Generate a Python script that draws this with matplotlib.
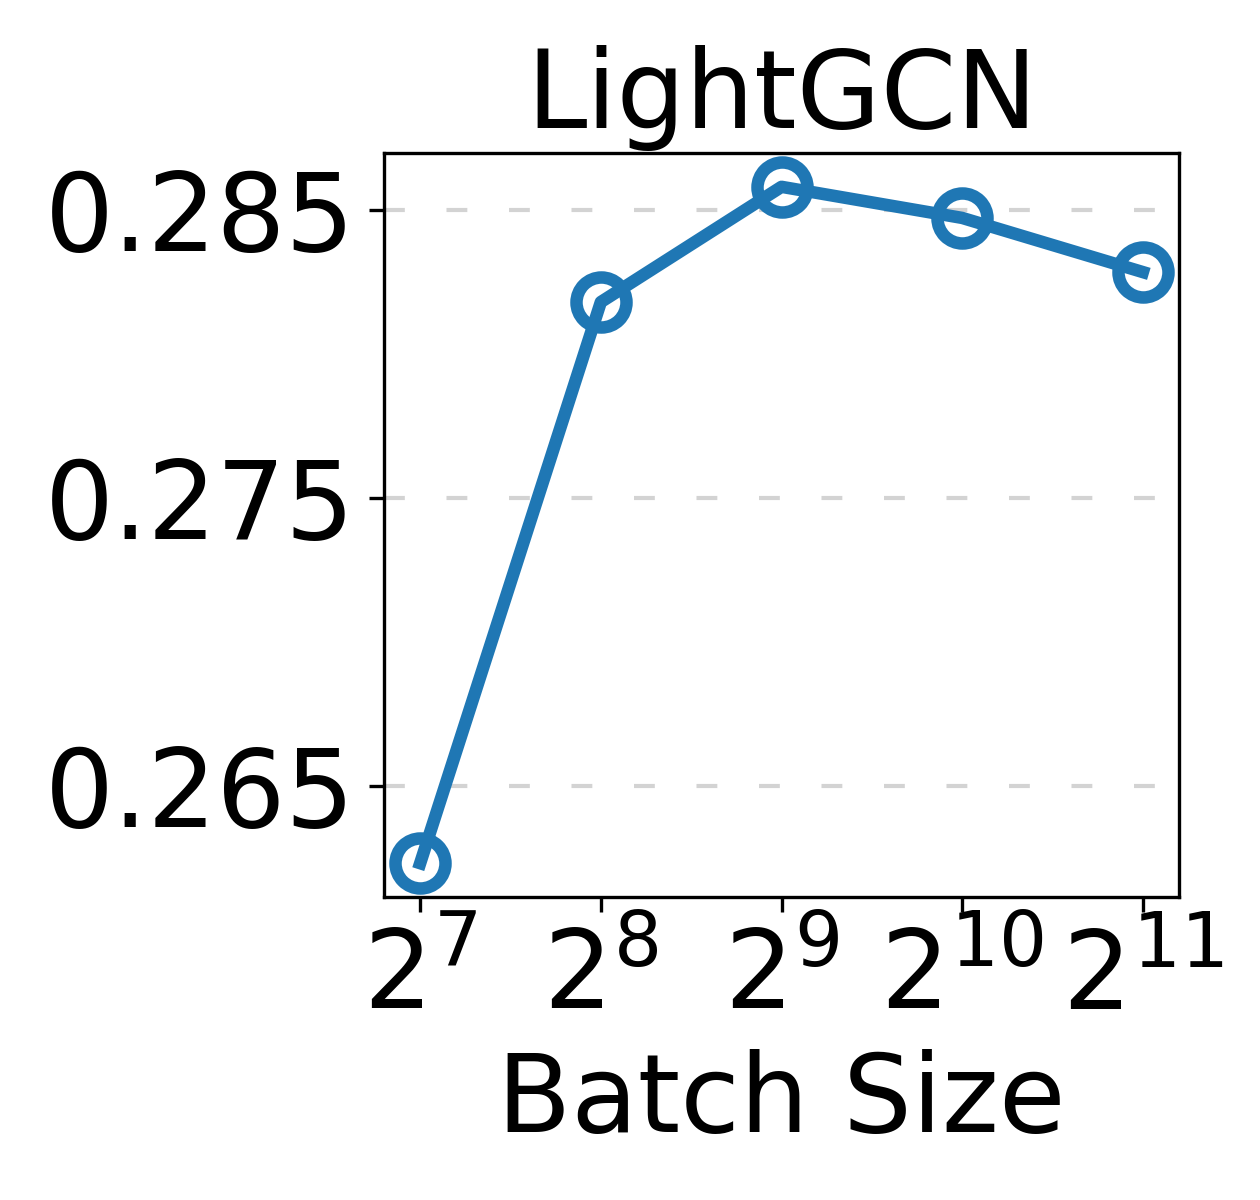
import matplotlib
matplotlib.use("Agg")
import matplotlib.pyplot as plt

# batch size exponents (2^k) and the metric
exponents = [7, 8, 9, 10, 11]
tick_labels = [r"$2^{7}$", r"$2^{8}$", r"$2^{9}$", r"$2^{10}$", r"$2^{11}$"]
scores = [0.26232, 0.2818, 0.2858, 0.28472, 0.28284]
y_ticks = [0.265, 0.275, 0.285]

fig = plt.figure(figsize=(4.2, 4.0), dpi=300)
ax = fig.add_axes([0.3048, 0.2525, 0.6309, 0.62])

ax.plot(exponents, scores, color="#1f77b4", linewidth=3,
        marker="o", markersize=12, markerfacecolor="none",
        markeredgewidth=3, markeredgecolor="#1f77b4")

ax.set_xticks(exponents)
ax.set_xticklabels(tick_labels, fontsize=26)
ax.set_yticks(y_ticks)
ax.set_yticklabels(["0.265", "0.275", "0.285"], fontsize=26)

ax.yaxis.grid(True, linestyle=(0, (5, 10)), color="lightgray", linewidth=1)
ax.set_axisbelow(True)

ax.set_title("LightGCN", fontsize=26)
ax.set_xlabel("Batch Size", fontsize=26)

fig.savefig("out.png", dpi=300)
